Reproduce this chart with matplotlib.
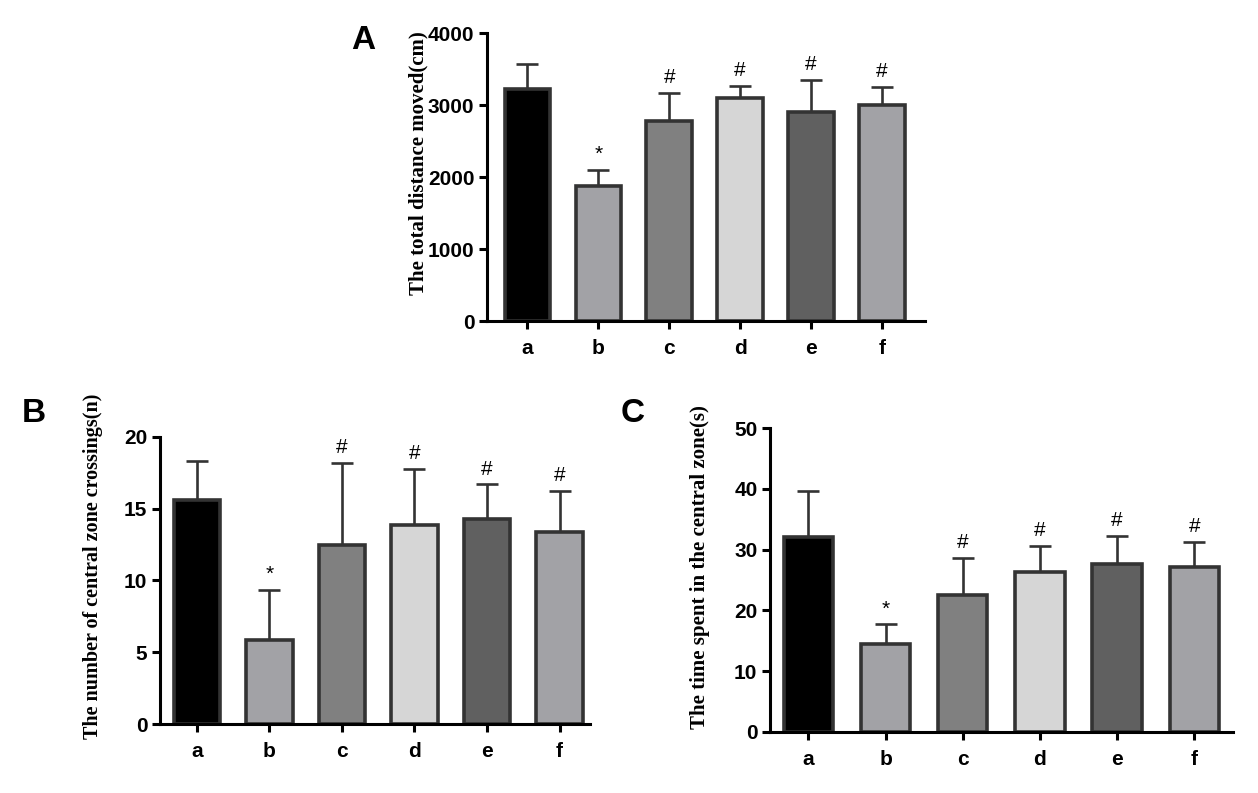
import matplotlib
matplotlib.use("Agg")
import matplotlib.pyplot as plt
import numpy as np

groups = ["a", "b", "c", "d", "e", "f"]
bar_colors = ["#000000", "#a2a2a6", "#808080", "#d6d6d6", "#606060", "#a2a2a6"]

# A: total distance moved (cm)
dist_mean = [3220, 1880, 2780, 3100, 2900, 3000]
dist_err = [360, 220, 390, 170, 450, 260]
dist_marks = ["", "*", "#", "#", "#", "#"]

# B: central zone crossings (n)
cross_mean = [15.6, 5.85, 12.5, 13.85, 14.3, 13.4]
cross_err = [2.7, 3.5, 5.7, 3.95, 2.4, 2.85]
cross_marks = ["", "*", "#", "#", "#", "#"]

# C: time in central zone (s)
time_mean = [32.1, 14.5, 22.6, 26.4, 27.6, 27.1]
time_err = [7.6, 3.2, 6.0, 4.2, 4.6, 4.2]
time_marks = ["", "*", "#", "#", "#", "#"]

edge = "#333333"


def panel(ax, means, errs, marks, ymax, ystep, ylabel, letter, lx, ly, xlim, labpos, labsize):
    x = np.arange(len(groups))
    ax.bar(x, means, width=0.64, color=bar_colors, edgecolor=edge, linewidth=2.6, zorder=2)
    # only the upper half of the error bar is drawn
    ax.errorbar(x, means, yerr=[np.zeros(len(errs)), errs], fmt="none", ecolor=edge,
                elinewidth=1.9, capsize=8, capthick=1.9, zorder=1)
    for xi, m, e, s in zip(x, means, errs, marks):
        if s:
            ax.text(xi, m + e + ymax * 0.02, s, ha="center", va="bottom",
                    fontsize=15, family="Liberation Sans")
    ax.set_ylim(0, ymax)
    ax.set_xlim(*xlim)
    ax.set_yticks(np.arange(0, ymax + 1e-9, ystep))
    ax.set_xticks(x)
    ax.set_xticklabels(groups)
    for sp in ["top", "right"]:
        ax.spines[sp].set_visible(False)
    for sp in ["left", "bottom"]:
        ax.spines[sp].set_linewidth(2.2)
    ax.tick_params(axis="both", width=2.2, length=6, labelsize=15, pad=3)
    ax.tick_params(axis="x", pad=7)
    for lab in ax.get_xticklabels() + ax.get_yticklabels():
        lab.set_fontweight("bold")
        lab.set_family("Liberation Sans")
    ax.set_ylabel(ylabel, family="Liberation Serif", fontweight="bold", fontsize=labsize)
    ax.yaxis.set_label_coords(*labpos)
    ax.figure.text(lx, ly, letter, fontsize=24, fontweight="bold", family="Liberation Sans",
                   ha="left", va="top")


fig = plt.figure(figsize=(12.58, 7.93), dpi=100)

axA = fig.add_axes([0.387, 0.595, 0.348, 0.363])
panel(axA, dist_mean, dist_err, dist_marks, 4000, 1000, "The total distance moved(cm)",
      "A", 0.279, 0.968, (-0.57, 5.6), (-0.133, 0.549), 15)

axB = fig.add_axes([0.127, 0.087, 0.342, 0.362])
panel(axB, cross_mean, cross_err, cross_marks, 20, 5, "The number of central zone crossings(n)",
      "B", 0.017, 0.498, (-0.51, 5.42), (-0.131, 0.551), 14.5)

axC = fig.add_axes([0.612, 0.077, 0.368, 0.383])
panel(axC, time_mean, time_err, time_marks, 50, 10, "The time spent in the central zone(s)",
      "C", 0.493, 0.498, (-0.5, 5.5), (-0.129, 0.543), 15)

fig.savefig("out.png", dpi=100)
